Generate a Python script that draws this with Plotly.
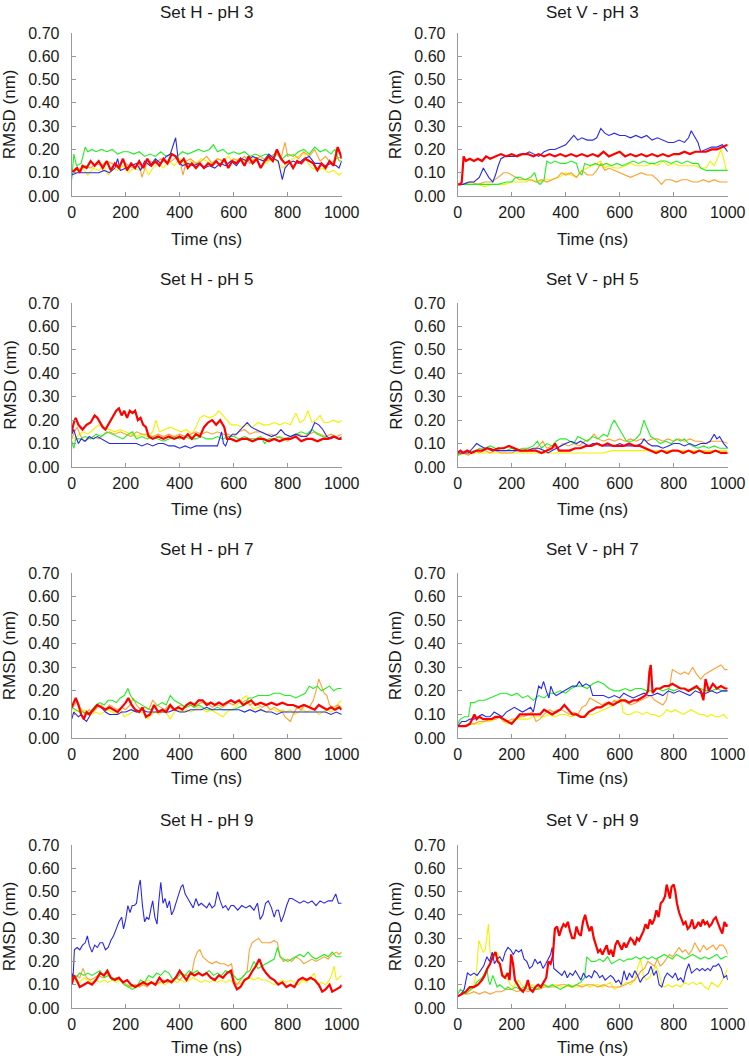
import plotly.graph_objects as go

# ---------------- data: (time ns, RMSD nm) pairs ----------------
PANEL_TITLES = ["Set H - pH 3", "Set V - pH 3", "Set H - pH 5", "Set V - pH 5",
                "Set H - pH 7", "Set V - pH 7", "Set H - pH 9", "Set V - pH 9"]
X_TICKS = [0, 200, 400, 600, 800, 1000]
Y_TICKS = [0.0, 0.1, 0.2, 0.3, 0.4, 0.5, 0.6, 0.7]

H3_GREEN = [(0,0.07),(8,0.18),(18,0.13),(35,0.14),(50,0.21),(60,0.19),(75,0.20),(90,0.19),(110,0.20),(130,0.19),(150,0.20),(170,0.18),(190,0.19),(210,0.19),(230,0.18),(250,0.19),(270,0.17),(290,0.18),(310,0.17),(330,0.19),(350,0.17),(370,0.18),(390,0.17),(410,0.19),(430,0.18),(450,0.19),(470,0.20),(490,0.19),(510,0.20),(525,0.22),(540,0.19),(560,0.20),(580,0.18),(600,0.19),(620,0.18),(640,0.19),(660,0.17),(680,0.18),(700,0.17),(720,0.18),(740,0.17),(760,0.19),(780,0.16),(800,0.18),(820,0.17),(840,0.19),(860,0.20),(880,0.18),(900,0.21),(920,0.19),(940,0.20),(960,0.18),(975,0.20),(990,0.15),(1000,0.15)]
H3_RED = [(0,0.10),(10,0.11),(20,0.12),(30,0.10),(40,0.13),(55,0.12),(70,0.15),(85,0.13),(100,0.15),(115,0.12),(130,0.15),(145,0.11),(160,0.14),(175,0.12),(190,0.16),(205,0.11),(220,0.14),(235,0.12),(250,0.15),(265,0.12),(280,0.16),(295,0.13),(310,0.15),(325,0.13),(340,0.16),(355,0.14),(370,0.18),(385,0.17),(400,0.14),(415,0.16),(430,0.12),(445,0.14),(460,0.12),(475,0.14),(490,0.12),(505,0.14),(520,0.13),(535,0.15),(550,0.13),(565,0.16),(580,0.12),(595,0.15),(610,0.14),(625,0.16),(640,0.13),(655,0.17),(670,0.14),(685,0.16),(700,0.12),(715,0.15),(730,0.17),(745,0.15),(760,0.20),(775,0.16),(790,0.14),(805,0.15),(820,0.12),(835,0.15),(850,0.14),(865,0.16),(880,0.15),(895,0.14),(910,0.11),(925,0.14),(940,0.12),(955,0.15),(970,0.13),(985,0.21),(995,0.18),(1000,0.16)]
H3_BLUE = [(0,0.09),(20,0.10),(40,0.10),(60,0.10),(80,0.10),(100,0.10),(120,0.11),(140,0.10),(160,0.12),(170,0.16),(180,0.11),(200,0.12),(220,0.13),(240,0.14),(255,0.11),(270,0.15),(290,0.13),(310,0.16),(330,0.14),(350,0.17),(365,0.18),(375,0.22),(385,0.25),(395,0.15),(410,0.13),(430,0.14),(450,0.13),(470,0.14),(490,0.12),(510,0.13),(530,0.12),(550,0.14),(570,0.13),(590,0.15),(610,0.13),(630,0.16),(650,0.15),(670,0.17),(690,0.16),(710,0.15),(730,0.18),(750,0.16),(765,0.15),(775,0.10),(780,0.07),(790,0.12),(805,0.14),(820,0.15),(840,0.14),(860,0.16),(880,0.17),(900,0.14),(920,0.14),(940,0.13),(960,0.14),(980,0.13),(990,0.12),(1000,0.15)]
H3_ORANGE = [(0,0.10),(15,0.12),(30,0.11),(50,0.13),(70,0.12),(90,0.14),(110,0.13),(130,0.15),(150,0.14),(170,0.12),(190,0.15),(210,0.13),(230,0.12),(250,0.14),(260,0.08),(275,0.13),(290,0.15),(310,0.14),(330,0.16),(350,0.14),(370,0.15),(390,0.17),(405,0.13),(412,0.09),(425,0.15),(440,0.16),(460,0.14),(480,0.15),(500,0.17),(520,0.14),(540,0.16),(560,0.15),(580,0.14),(600,0.16),(620,0.15),(640,0.17),(660,0.14),(680,0.16),(700,0.17),(720,0.15),(740,0.16),(760,0.18),(775,0.16),(790,0.23),(800,0.17),(820,0.18),(840,0.16),(860,0.19),(880,0.17),(900,0.20),(920,0.15),(940,0.17),(960,0.14),(980,0.16),(1000,0.17)]
H3_YELLOW = [(0,0.10),(20,0.11),(40,0.12),(60,0.09),(80,0.12),(100,0.11),(120,0.13),(135,0.09),(150,0.12),(170,0.11),(190,0.13),(210,0.10),(230,0.12),(250,0.11),(270,0.13),(285,0.09),(300,0.12),(320,0.14),(340,0.12),(360,0.15),(380,0.13),(400,0.16),(420,0.13),(440,0.15),(460,0.14),(480,0.16),(500,0.15),(520,0.14),(540,0.16),(560,0.15),(580,0.17),(600,0.14),(620,0.16),(640,0.15),(660,0.17),(680,0.15),(700,0.16),(720,0.14),(740,0.16),(760,0.15),(780,0.12),(800,0.14),(820,0.16),(840,0.17),(860,0.19),(875,0.14),(890,0.12),(910,0.11),(930,0.12),(950,0.10),(970,0.11),(990,0.09),(1000,0.10)]

V3_RED = [(0,0.05),(10,0.05),(15,0.06),(22,0.17),(30,0.15),(45,0.16),(60,0.15),(75,0.16),(90,0.15),(105,0.17),(120,0.16),(140,0.17),(160,0.18),(180,0.17),(200,0.18),(220,0.17),(240,0.18),(260,0.18),(280,0.17),(300,0.18),(320,0.17),(340,0.18),(360,0.17),(380,0.18),(400,0.17),(420,0.18),(440,0.17),(460,0.18),(480,0.17),(500,0.18),(520,0.17),(540,0.19),(560,0.17),(580,0.18),(600,0.19),(620,0.17),(640,0.18),(660,0.17),(680,0.18),(700,0.17),(720,0.18),(740,0.17),(760,0.18),(780,0.17),(800,0.18),(820,0.18),(840,0.19),(860,0.18),(880,0.19),(900,0.19),(920,0.19),(940,0.20),(960,0.20),(980,0.21),(1000,0.22)]
V3_BLUE = [(0,0.05),(20,0.05),(40,0.06),(60,0.06),(80,0.08),(95,0.12),(105,0.10),(115,0.08),(130,0.06),(140,0.09),(150,0.13),(160,0.16),(175,0.17),(190,0.17),(210,0.17),(230,0.18),(250,0.18),(265,0.19),(280,0.18),(300,0.17),(320,0.19),(340,0.20),(360,0.20),(380,0.21),(400,0.22),(415,0.24),(430,0.26),(445,0.24),(460,0.25),(480,0.24),(500,0.24),(515,0.25),(530,0.29),(545,0.27),(560,0.26),(580,0.27),(600,0.26),(620,0.26),(640,0.25),(660,0.26),(680,0.25),(700,0.26),(720,0.24),(740,0.25),(760,0.24),(780,0.23),(800,0.23),(820,0.24),(840,0.23),(855,0.25),(865,0.28),(875,0.26),(890,0.23),(900,0.19),(920,0.20),(940,0.21),(960,0.21),(980,0.22),(1000,0.19)]
V3_GREEN = [(0,0.05),(30,0.05),(60,0.05),(90,0.05),(120,0.05),(150,0.05),(180,0.06),(200,0.06),(215,0.08),(230,0.08),(250,0.07),(270,0.08),(285,0.10),(295,0.06),(305,0.05),(320,0.07),(330,0.15),(345,0.14),(360,0.15),(380,0.14),(400,0.14),(420,0.15),(440,0.14),(450,0.10),(460,0.09),(470,0.14),(490,0.13),(510,0.14),(530,0.13),(550,0.14),(570,0.13),(590,0.14),(610,0.13),(630,0.14),(650,0.15),(670,0.14),(690,0.15),(710,0.14),(730,0.14),(750,0.15),(770,0.15),(790,0.14),(810,0.15),(830,0.14),(850,0.15),(870,0.14),(890,0.14),(900,0.12),(920,0.11),(940,0.11),(960,0.11),(980,0.11),(1000,0.11)]
V3_ORANGE = [(0,0.05),(25,0.05),(50,0.06),(75,0.05),(100,0.06),(125,0.06),(150,0.08),(170,0.10),(185,0.10),(200,0.09),(215,0.08),(230,0.07),(250,0.07),(270,0.07),(290,0.06),(310,0.07),(330,0.06),(350,0.07),(370,0.08),(385,0.10),(400,0.09),(420,0.10),(440,0.08),(460,0.11),(480,0.09),(500,0.09),(515,0.11),(530,0.14),(545,0.11),(560,0.12),(580,0.11),(600,0.10),(620,0.09),(640,0.08),(660,0.09),(680,0.10),(700,0.09),(720,0.09),(740,0.07),(755,0.05),(770,0.07),(790,0.07),(810,0.06),(830,0.07),(850,0.07),(870,0.06),(890,0.06),(910,0.07),(930,0.06),(950,0.07),(970,0.06),(1000,0.06)]
V3_YELLOW = [(0,0.05),(25,0.05),(50,0.05),(75,0.05),(100,0.04),(125,0.05),(150,0.05),(175,0.05),(200,0.06),(225,0.06),(250,0.06),(275,0.07),(300,0.06),(325,0.07),(350,0.07),(375,0.08),(400,0.10),(420,0.09),(440,0.08),(460,0.11),(480,0.12),(500,0.13),(515,0.14),(530,0.15),(545,0.12),(560,0.13),(580,0.12),(600,0.12),(620,0.13),(640,0.14),(660,0.13),(680,0.13),(700,0.13),(720,0.14),(740,0.13),(760,0.15),(780,0.13),(800,0.14),(820,0.13),(840,0.13),(860,0.13),(880,0.13),(900,0.12),(920,0.12),(935,0.15),(950,0.13),(965,0.17),(975,0.20),(985,0.16),(995,0.11),(1000,0.11)]

H5_RED = [(0,0.15),(8,0.19),(15,0.21),(25,0.18),(40,0.16),(55,0.18),(70,0.19),(85,0.22),(95,0.21),(105,0.19),(115,0.17),(125,0.16),(140,0.19),(155,0.22),(165,0.24),(175,0.25),(185,0.22),(195,0.24),(205,0.21),(215,0.24),(225,0.23),(235,0.24),(245,0.20),(255,0.21),(265,0.18),(275,0.17),(285,0.13),(300,0.12),(320,0.13),(340,0.12),(360,0.13),(380,0.12),(400,0.13),(415,0.12),(430,0.14),(445,0.12),(460,0.14),(475,0.13),(490,0.17),(505,0.19),(520,0.20),(535,0.18),(550,0.20),(565,0.17),(575,0.12),(590,0.12),(610,0.11),(630,0.12),(650,0.12),(670,0.11),(690,0.12),(710,0.12),(730,0.11),(750,0.12),(770,0.11),(790,0.12),(810,0.12),(830,0.13),(850,0.11),(870,0.12),(890,0.12),(910,0.11),(930,0.12),(950,0.12),(970,0.13),(990,0.12),(1000,0.12)]
H5_YELLOW = [(0,0.12),(20,0.13),(40,0.15),(60,0.14),(80,0.16),(100,0.18),(120,0.17),(140,0.16),(160,0.15),(180,0.16),(200,0.15),(220,0.14),(240,0.13),(260,0.14),(280,0.13),(300,0.15),(312,0.20),(325,0.15),(345,0.16),(365,0.17),(385,0.16),(405,0.15),(425,0.16),(445,0.14),(460,0.17),(475,0.21),(490,0.22),(510,0.21),(530,0.22),(545,0.24),(560,0.22),(575,0.20),(590,0.18),(610,0.18),(630,0.17),(650,0.18),(670,0.17),(690,0.19),(710,0.18),(730,0.18),(750,0.19),(770,0.18),(790,0.19),(810,0.18),(830,0.23),(845,0.19),(860,0.20),(875,0.24),(890,0.19),(905,0.20),(920,0.22),(935,0.19),(950,0.19),(970,0.20),(990,0.19),(1000,0.20)]
H5_GREEN = [(0,0.11),(8,0.08),(15,0.12),(30,0.12),(50,0.13),(70,0.12),(90,0.14),(110,0.13),(130,0.15),(150,0.14),(170,0.13),(190,0.12),(210,0.14),(225,0.15),(240,0.12),(260,0.13),(280,0.12),(300,0.13),(320,0.12),(340,0.11),(360,0.12),(380,0.13),(400,0.12),(420,0.13),(440,0.12),(460,0.12),(480,0.13),(500,0.12),(520,0.12),(540,0.13),(560,0.12),(580,0.13),(600,0.13),(620,0.12),(640,0.13),(660,0.12),(680,0.12),(700,0.13),(715,0.10),(730,0.12),(750,0.12),(770,0.13),(790,0.12),(810,0.13),(830,0.14),(850,0.15),(870,0.14),(890,0.16),(910,0.14),(930,0.13),(950,0.12),(970,0.13),(990,0.12),(1000,0.12)]
H5_ORANGE = [(0,0.12),(10,0.15),(20,0.17),(30,0.14),(45,0.11),(60,0.12),(80,0.13),(100,0.12),(120,0.14),(140,0.15),(160,0.14),(180,0.15),(200,0.14),(220,0.13),(240,0.15),(260,0.14),(280,0.14),(300,0.13),(320,0.14),(340,0.13),(360,0.14),(380,0.13),(400,0.14),(420,0.13),(440,0.14),(460,0.15),(480,0.14),(500,0.15),(520,0.14),(540,0.15),(560,0.14),(580,0.14),(600,0.13),(620,0.15),(640,0.16),(660,0.14),(680,0.15),(700,0.15),(720,0.14),(740,0.14),(760,0.13),(780,0.12),(800,0.11),(820,0.13),(840,0.14),(860,0.13),(880,0.14),(900,0.15),(920,0.14),(940,0.13),(960,0.14),(980,0.13),(1000,0.14)]
H5_BLUE = [(0,0.14),(8,0.16),(15,0.13),(25,0.10),(35,0.12),(50,0.11),(65,0.13),(80,0.12),(95,0.13),(110,0.12),(125,0.11),(140,0.10),(160,0.10),(180,0.10),(200,0.10),(220,0.10),(240,0.10),(260,0.09),(280,0.10),(300,0.09),(320,0.10),(340,0.10),(360,0.09),(380,0.09),(400,0.08),(420,0.09),(440,0.08),(460,0.09),(480,0.09),(500,0.09),(520,0.09),(540,0.09),(550,0.13),(555,0.15),(562,0.10),(570,0.09),(580,0.12),(595,0.14),(610,0.14),(625,0.16),(640,0.18),(650,0.19),(665,0.17),(680,0.16),(700,0.15),(720,0.14),(740,0.13),(760,0.14),(775,0.16),(790,0.14),(810,0.13),(830,0.14),(850,0.13),(870,0.13),(885,0.15),(900,0.19),(915,0.18),(930,0.16),(945,0.13),(960,0.12),(975,0.13),(990,0.12),(1000,0.13)]

V5_GREEN = [(0,0.05),(20,0.06),(40,0.07),(60,0.06),(80,0.08),(100,0.08),(120,0.09),(140,0.08),(160,0.07),(180,0.07),(200,0.08),(220,0.07),(240,0.08),(260,0.08),(280,0.09),(295,0.11),(310,0.08),(330,0.10),(350,0.09),(365,0.11),(380,0.12),(400,0.12),(415,0.11),(430,0.10),(445,0.13),(460,0.12),(480,0.11),(500,0.13),(520,0.12),(540,0.14),(555,0.13),(570,0.18),(580,0.20),(595,0.17),(610,0.14),(625,0.11),(645,0.11),(660,0.12),(675,0.14),(690,0.20),(700,0.17),(715,0.13),(730,0.12),(750,0.10),(770,0.11),(790,0.10),(810,0.12),(825,0.11),(840,0.12),(855,0.10),(870,0.09),(890,0.08),(910,0.09),(930,0.08),(950,0.09),(970,0.08),(990,0.08),(1000,0.08)]
V5_ORANGE = [(0,0.05),(20,0.06),(40,0.05),(60,0.07),(80,0.06),(100,0.07),(120,0.06),(140,0.07),(160,0.06),(180,0.06),(200,0.06),(220,0.07),(240,0.07),(260,0.08),(280,0.07),(300,0.09),(315,0.11),(330,0.08),(350,0.09),(370,0.08),(390,0.10),(410,0.09),(430,0.10),(450,0.09),(470,0.11),(490,0.12),(505,0.14),(520,0.12),(540,0.11),(560,0.12),(580,0.11),(600,0.12),(620,0.11),(640,0.12),(660,0.11),(680,0.12),(700,0.11),(720,0.12),(740,0.12),(760,0.11),(780,0.12),(800,0.11),(820,0.12),(840,0.11),(860,0.12),(880,0.11),(900,0.11),(920,0.10),(940,0.11),(960,0.11),(980,0.11),(1000,0.10)]
V5_RED = [(0,0.06),(10,0.07),(20,0.06),(35,0.07),(50,0.06),(70,0.07),(90,0.07),(110,0.08),(130,0.07),(150,0.08),(170,0.08),(190,0.09),(210,0.08),(230,0.07),(250,0.07),(270,0.07),(290,0.07),(310,0.06),(330,0.07),(350,0.08),(360,0.10),(375,0.07),(395,0.07),(415,0.07),(435,0.08),(455,0.08),(475,0.09),(495,0.09),(515,0.10),(535,0.09),(555,0.10),(575,0.09),(595,0.09),(615,0.09),(635,0.10),(655,0.09),(675,0.09),(695,0.08),(715,0.07),(735,0.06),(755,0.07),(775,0.06),(795,0.07),(815,0.07),(835,0.06),(855,0.07),(875,0.06),(895,0.07),(915,0.06),(935,0.06),(955,0.07),(975,0.06),(1000,0.06)]
V5_BLUE = [(0,0.06),(20,0.06),(40,0.06),(55,0.08),(70,0.10),(85,0.09),(100,0.08),(120,0.08),(140,0.07),(160,0.07),(180,0.07),(200,0.07),(220,0.07),(240,0.07),(260,0.07),(280,0.08),(300,0.08),(320,0.07),(335,0.06),(350,0.07),(365,0.08),(380,0.09),(400,0.10),(420,0.11),(440,0.10),(455,0.11),(470,0.10),(485,0.09),(500,0.10),(520,0.10),(540,0.09),(560,0.09),(580,0.09),(600,0.10),(620,0.09),(640,0.09),(660,0.09),(680,0.10),(690,0.12),(705,0.10),(720,0.09),(740,0.09),(760,0.08),(780,0.09),(800,0.10),(820,0.10),(840,0.09),(860,0.10),(880,0.09),(900,0.10),(920,0.10),(935,0.11),(950,0.14),(960,0.12),(970,0.13),(985,0.10),(1000,0.08)]
V5_YELLOW = [(0,0.05),(30,0.06),(60,0.06),(90,0.06),(120,0.06),(150,0.06),(180,0.06),(210,0.06),(240,0.06),(270,0.06),(300,0.06),(330,0.06),(360,0.06),(390,0.06),(420,0.06),(450,0.06),(480,0.06),(510,0.06),(540,0.06),(570,0.07),(600,0.07),(630,0.07),(660,0.07),(690,0.07),(720,0.07),(750,0.07),(780,0.07),(810,0.07),(840,0.07),(870,0.07),(900,0.07),(930,0.07),(960,0.07),(1000,0.07)]

H7_GREEN = [(0,0.13),(15,0.12),(30,0.11),(45,0.11),(60,0.10),(75,0.12),(90,0.14),(105,0.15),(120,0.14),(135,0.16),(150,0.16),(165,0.15),(180,0.17),(195,0.18),(208,0.21),(218,0.18),(230,0.16),(245,0.15),(260,0.14),(275,0.13),(290,0.12),(305,0.13),(320,0.14),(335,0.15),(350,0.14),(365,0.18),(380,0.16),(395,0.15),(410,0.14),(425,0.13),(440,0.14),(455,0.13),(470,0.14),(485,0.13),(500,0.12),(520,0.12),(540,0.13),(560,0.12),(580,0.12),(600,0.12),(620,0.13),(640,0.14),(655,0.17),(670,0.17),(690,0.18),(710,0.18),(730,0.18),(750,0.19),(770,0.19),(790,0.18),(810,0.18),(830,0.17),(850,0.18),(865,0.19),(880,0.22),(895,0.21),(910,0.22),(925,0.20),(940,0.21),(955,0.22),(970,0.20),(985,0.21),(1000,0.21)]
H7_RED = [(0,0.13),(8,0.15),(15,0.17),(25,0.14),(35,0.10),(45,0.08),(55,0.11),(65,0.10),(80,0.12),(95,0.14),(110,0.13),(125,0.12),(140,0.13),(155,0.12),(170,0.11),(185,0.13),(200,0.15),(210,0.17),(222,0.14),(235,0.12),(250,0.11),(262,0.13),(275,0.09),(290,0.10),(305,0.14),(320,0.11),(335,0.12),(350,0.11),(365,0.14),(380,0.12),(395,0.13),(410,0.12),(425,0.14),(440,0.15),(455,0.14),(470,0.16),(485,0.16),(500,0.14),(515,0.15),(530,0.14),(545,0.15),(560,0.14),(575,0.15),(590,0.16),(605,0.15),(620,0.16),(635,0.14),(650,0.15),(665,0.16),(680,0.14),(700,0.15),(720,0.14),(740,0.15),(760,0.14),(780,0.15),(800,0.14),(820,0.14),(840,0.13),(860,0.14),(880,0.13),(900,0.12),(915,0.14),(930,0.13),(945,0.12),(960,0.13),(975,0.12),(990,0.13),(1000,0.12)]
H7_ORANGE = [(0,0.12),(10,0.14),(20,0.16),(35,0.12),(50,0.10),(65,0.12),(80,0.11),(95,0.13),(110,0.14),(125,0.12),(140,0.14),(155,0.13),(170,0.12),(185,0.13),(200,0.12),(215,0.14),(228,0.17),(240,0.14),(255,0.12),(270,0.13),(285,0.12),(300,0.16),(315,0.14),(330,0.13),(345,0.12),(360,0.14),(375,0.12),(390,0.13),(405,0.14),(420,0.13),(435,0.15),(450,0.13),(465,0.14),(480,0.15),(500,0.15),(520,0.13),(540,0.14),(560,0.13),(580,0.15),(600,0.14),(615,0.16),(630,0.15),(645,0.16),(660,0.14),(675,0.15),(690,0.14),(705,0.13),(720,0.14),(735,0.12),(750,0.13),(765,0.12),(780,0.11),(790,0.09),(800,0.08),(810,0.07),(820,0.10),(835,0.13),(850,0.12),(865,0.14),(880,0.13),(895,0.16),(905,0.20),(915,0.25),(925,0.22),(935,0.19),(945,0.18),(955,0.14),(970,0.13),(985,0.14),(1000,0.13)]
H7_YELLOW = [(0,0.10),(15,0.12),(30,0.11),(45,0.12),(60,0.11),(75,0.10),(90,0.11),(105,0.10),(120,0.11),(135,0.12),(150,0.11),(165,0.10),(180,0.12),(195,0.09),(210,0.10),(225,0.11),(240,0.12),(255,0.11),(270,0.10),(282,0.08),(295,0.10),(310,0.11),(325,0.10),(340,0.12),(355,0.10),(365,0.08),(380,0.11),(395,0.12),(410,0.11),(425,0.12),(440,0.11),(455,0.12),(470,0.13),(485,0.12),(500,0.11),(515,0.12),(530,0.11),(545,0.10),(560,0.09),(575,0.11),(590,0.12),(605,0.13),(620,0.15),(635,0.17),(648,0.18),(660,0.14),(675,0.12),(690,0.13),(705,0.12),(720,0.11),(735,0.12),(750,0.12),(765,0.11),(780,0.12),(795,0.11),(810,0.12),(825,0.10),(840,0.11),(855,0.12),(870,0.11),(885,0.12),(900,0.12),(915,0.10),(930,0.11),(945,0.12),(960,0.11),(975,0.12),(990,0.15),(1000,0.16)]
H7_BLUE = [(0,0.08),(8,0.11),(16,0.10),(25,0.09),(35,0.10),(45,0.08),(55,0.07),(65,0.09),(80,0.12),(95,0.14),(110,0.13),(125,0.11),(140,0.10),(155,0.10),(170,0.10),(185,0.11),(200,0.11),(220,0.12),(240,0.11),(260,0.12),(280,0.11),(300,0.11),(320,0.11),(340,0.11),(360,0.11),(380,0.12),(400,0.11),(420,0.11),(440,0.12),(460,0.12),(480,0.12),(500,0.13),(520,0.12),(540,0.12),(560,0.12),(580,0.12),(600,0.12),(620,0.12),(640,0.11),(660,0.12),(680,0.11),(700,0.12),(720,0.11),(740,0.11),(760,0.10),(780,0.11),(800,0.11),(820,0.11),(840,0.11),(860,0.11),(880,0.11),(900,0.11),(920,0.11),(940,0.11),(960,0.10),(980,0.11),(1000,0.10)]

V7_GREEN = [(0,0.06),(10,0.08),(25,0.09),(40,0.09),(48,0.15),(60,0.15),(80,0.16),(100,0.16),(120,0.17),(140,0.18),(160,0.19),(180,0.19),(200,0.18),(220,0.19),(240,0.17),(260,0.18),(280,0.16),(300,0.18),(320,0.17),(340,0.19),(360,0.19),(380,0.20),(400,0.19),(420,0.21),(440,0.22),(460,0.22),(480,0.21),(500,0.23),(520,0.24),(540,0.23),(560,0.21),(580,0.20),(600,0.20),(620,0.21),(640,0.20),(660,0.21),(680,0.21),(700,0.20),(720,0.20),(740,0.21),(760,0.20),(780,0.21),(800,0.20),(820,0.21),(840,0.21),(860,0.20),(880,0.21),(900,0.21),(920,0.20),(940,0.20),(960,0.21),(980,0.20),(1000,0.20)]
V7_BLUE = [(0,0.05),(15,0.07),(30,0.07),(45,0.08),(60,0.08),(75,0.09),(90,0.10),(105,0.09),(120,0.09),(135,0.11),(150,0.10),(165,0.09),(180,0.11),(195,0.12),(210,0.13),(225,0.12),(240,0.11),(255,0.12),(270,0.13),(280,0.11),(290,0.17),(300,0.22),(310,0.21),(318,0.24),(328,0.20),(338,0.17),(345,0.22),(355,0.19),(365,0.18),(380,0.19),(395,0.20),(410,0.21),(425,0.22),(440,0.22),(450,0.24),(462,0.22),(475,0.23),(490,0.22),(500,0.18),(520,0.18),(540,0.18),(560,0.17),(580,0.18),(600,0.17),(615,0.19),(630,0.18),(650,0.17),(670,0.18),(690,0.19),(705,0.18),(720,0.18),(740,0.19),(760,0.18),(780,0.20),(800,0.19),(820,0.20),(840,0.19),(860,0.18),(880,0.20),(900,0.19),(920,0.19),(940,0.20),(960,0.19),(980,0.20),(1000,0.20)]
V7_RED = [(0,0.05),(15,0.05),(30,0.05),(45,0.06),(55,0.08),(62,0.10),(70,0.08),(80,0.09),(95,0.08),(110,0.08),(125,0.08),(140,0.09),(155,0.09),(170,0.08),(185,0.07),(200,0.06),(215,0.08),(230,0.10),(245,0.10),(260,0.10),(275,0.10),(290,0.10),(305,0.10),(320,0.12),(335,0.11),(350,0.10),(365,0.11),(380,0.12),(395,0.14),(410,0.12),(425,0.10),(440,0.10),(455,0.09),(470,0.09),(485,0.11),(500,0.12),(515,0.13),(530,0.13),(545,0.14),(560,0.15),(575,0.14),(590,0.15),(605,0.16),(620,0.16),(635,0.15),(650,0.16),(665,0.16),(680,0.17),(695,0.18),(705,0.20),(710,0.28),(715,0.31),(722,0.19),(735,0.21),(750,0.21),(765,0.22),(780,0.22),(795,0.23),(810,0.22),(825,0.21),(840,0.21),(855,0.20),(870,0.21),(885,0.22),(900,0.20),(910,0.16),(918,0.25),(930,0.20),(945,0.23),(960,0.21),(975,0.22),(990,0.21),(1000,0.21)]
V7_ORANGE = [(0,0.05),(20,0.05),(40,0.06),(60,0.06),(80,0.07),(100,0.07),(120,0.08),(140,0.08),(155,0.09),(170,0.07),(185,0.07),(200,0.08),(215,0.08),(230,0.09),(245,0.09),(260,0.10),(275,0.11),(290,0.07),(305,0.08),(320,0.10),(340,0.12),(355,0.11),(370,0.12),(385,0.12),(400,0.11),(415,0.10),(430,0.11),(445,0.10),(460,0.13),(475,0.14),(490,0.17),(505,0.16),(520,0.15),(535,0.14),(550,0.15),(565,0.14),(580,0.16),(595,0.15),(610,0.16),(625,0.15),(640,0.14),(660,0.15),(680,0.16),(700,0.17),(715,0.18),(730,0.16),(745,0.15),(760,0.14),(772,0.16),(785,0.22),(795,0.29),(810,0.28),(825,0.27),(840,0.28),(855,0.27),(870,0.30),(885,0.27),(900,0.25),(915,0.27),(930,0.28),(945,0.29),(960,0.30),(975,0.31),(990,0.29),(1000,0.29)]
V7_YELLOW = [(0,0.05),(20,0.05),(40,0.06),(60,0.06),(80,0.06),(100,0.07),(120,0.07),(140,0.08),(155,0.09),(170,0.07),(185,0.06),(200,0.07),(220,0.08),(240,0.08),(260,0.08),(280,0.09),(300,0.09),(320,0.09),(340,0.10),(360,0.09),(380,0.10),(400,0.10),(420,0.09),(440,0.10),(460,0.09),(480,0.10),(500,0.10),(520,0.11),(540,0.12),(560,0.13),(580,0.14),(595,0.16),(605,0.17),(612,0.11),(625,0.10),(640,0.10),(655,0.11),(670,0.11),(685,0.10),(700,0.11),(715,0.10),(730,0.10),(745,0.09),(760,0.10),(775,0.12),(790,0.11),(805,0.12),(820,0.11),(835,0.10),(850,0.11),(865,0.12),(880,0.11),(895,0.10),(910,0.10),(925,0.09),(940,0.10),(955,0.09),(970,0.09),(985,0.10),(1000,0.08)]

H9_BLUE = [(0,0.15),(5,0.13),(10,0.25),(20,0.26),(30,0.25),(40,0.27),(50,0.28),(58,0.31),(65,0.27),(75,0.24),(85,0.27),(95,0.26),(105,0.28),(115,0.28),(125,0.25),(135,0.26),(145,0.29),(155,0.31),(165,0.34),(175,0.37),(185,0.39),(192,0.34),(200,0.38),(208,0.44),(216,0.41),(224,0.44),(232,0.44),(240,0.45),(248,0.52),(254,0.55),(262,0.44),(270,0.37),(278,0.39),(286,0.38),(294,0.43),(300,0.46),(308,0.39),(316,0.36),(322,0.45),(330,0.54),(338,0.45),(346,0.47),(354,0.43),(362,0.46),(370,0.40),(378,0.42),(386,0.45),(395,0.48),(405,0.52),(412,0.53),(420,0.49),(430,0.47),(440,0.45),(450,0.43),(460,0.47),(470,0.44),(480,0.45),(490,0.44),(500,0.43),(510,0.45),(520,0.43),(530,0.44),(540,0.50),(550,0.46),(560,0.43),(570,0.44),(580,0.42),(590,0.44),(600,0.44),(615,0.42),(630,0.44),(645,0.43),(660,0.44),(675,0.42),(688,0.45),(698,0.38),(708,0.40),(718,0.45),(728,0.46),(740,0.43),(750,0.39),(758,0.42),(766,0.42),(776,0.37),(786,0.40),(796,0.44),(806,0.47),(816,0.47),(830,0.46),(845,0.45),(860,0.46),(875,0.45),(890,0.46),(905,0.44),(920,0.46),(935,0.45),(950,0.46),(965,0.46),(978,0.49),(988,0.45),(1000,0.45)]
H9_ORANGE = [(0,0.12),(15,0.14),(30,0.13),(42,0.17),(55,0.13),(70,0.12),(85,0.13),(100,0.14),(115,0.13),(130,0.15),(145,0.13),(160,0.12),(175,0.13),(190,0.11),(205,0.10),(220,0.09),(235,0.10),(250,0.09),(265,0.10),(280,0.09),(295,0.11),(310,0.10),(325,0.11),(340,0.12),(355,0.11),(370,0.12),(385,0.13),(400,0.12),(415,0.14),(430,0.14),(445,0.15),(455,0.21),(465,0.24),(475,0.25),(485,0.22),(495,0.21),(505,0.20),(520,0.19),(535,0.20),(550,0.19),(565,0.19),(580,0.18),(592,0.19),(602,0.12),(612,0.10),(625,0.12),(640,0.14),(650,0.16),(658,0.25),(668,0.28),(680,0.29),(692,0.30),(705,0.28),(720,0.28),(735,0.28),(750,0.29),(762,0.28),(772,0.22),(785,0.20),(800,0.21),(815,0.20),(830,0.22),(845,0.21),(860,0.19),(875,0.20),(890,0.21),(905,0.20),(920,0.21),(935,0.22),(950,0.21),(965,0.23),(980,0.24),(990,0.23),(1000,0.24)]
H9_GREEN = [(0,0.14),(15,0.13),(30,0.15),(45,0.14),(60,0.15),(75,0.14),(90,0.15),(105,0.16),(120,0.13),(135,0.14),(150,0.12),(165,0.13),(180,0.12),(195,0.10),(210,0.09),(225,0.08),(240,0.09),(255,0.12),(270,0.11),(285,0.14),(300,0.13),(315,0.15),(330,0.14),(345,0.16),(360,0.15),(375,0.12),(390,0.13),(405,0.15),(420,0.14),(435,0.16),(450,0.15),(465,0.16),(480,0.14),(495,0.15),(510,0.16),(525,0.14),(540,0.15),(555,0.14),(570,0.16),(585,0.15),(600,0.14),(615,0.12),(630,0.13),(645,0.15),(660,0.16),(675,0.20),(690,0.17),(705,0.18),(720,0.19),(735,0.20),(750,0.21),(762,0.26),(772,0.22),(785,0.21),(800,0.20),(815,0.21),(830,0.22),(845,0.23),(860,0.22),(875,0.24),(890,0.22),(905,0.21),(920,0.22),(935,0.23),(950,0.22),(965,0.24),(980,0.22),(1000,0.22)]
H9_RED = [(0,0.10),(8,0.14),(18,0.12),(30,0.09),(45,0.10),(60,0.11),(75,0.10),(90,0.12),(105,0.15),(120,0.14),(132,0.16),(145,0.13),(160,0.12),(175,0.13),(190,0.11),(205,0.12),(220,0.10),(235,0.09),(250,0.10),(265,0.11),(280,0.10),(295,0.11),(310,0.10),(325,0.13),(340,0.11),(355,0.12),(370,0.11),(385,0.13),(400,0.16),(412,0.14),(425,0.12),(440,0.15),(455,0.14),(470,0.15),(485,0.14),(500,0.15),(515,0.13),(530,0.12),(545,0.14),(560,0.13),(575,0.15),(590,0.16),(600,0.11),(612,0.08),(625,0.09),(640,0.12),(655,0.13),(670,0.16),(682,0.18),(695,0.21),(708,0.17),(720,0.15),(735,0.13),(750,0.12),(765,0.10),(780,0.11),(795,0.09),(810,0.10),(825,0.09),(840,0.12),(855,0.13),(870,0.12),(885,0.13),(900,0.12),(915,0.10),(928,0.07),(940,0.08),(955,0.10),(965,0.07),(980,0.08),(995,0.09),(1000,0.10)]
H9_YELLOW = [(0,0.11),(15,0.12),(30,0.11),(45,0.13),(60,0.12),(75,0.11),(90,0.12),(105,0.11),(120,0.12),(135,0.11),(150,0.12),(165,0.11),(180,0.12),(195,0.10),(210,0.09),(225,0.10),(240,0.09),(255,0.10),(270,0.11),(285,0.12),(300,0.11),(315,0.10),(330,0.11),(345,0.10),(360,0.11),(375,0.12),(390,0.11),(405,0.12),(420,0.11),(435,0.12),(450,0.13),(465,0.12),(480,0.11),(495,0.12),(510,0.11),(525,0.12),(540,0.11),(555,0.12),(570,0.11),(585,0.12),(600,0.11),(615,0.10),(630,0.11),(645,0.12),(660,0.13),(675,0.12),(690,0.13),(705,0.12),(720,0.12),(735,0.11),(750,0.10),(765,0.11),(780,0.12),(795,0.11),(810,0.12),(825,0.11),(840,0.10),(855,0.12),(870,0.11),(885,0.13),(898,0.15),(910,0.10),(925,0.11),(940,0.10),(955,0.12),(965,0.15),(972,0.18),(980,0.12),(990,0.13),(1000,0.14)]

V9_RED = [(0,0.05),(15,0.06),(30,0.07),(45,0.09),(60,0.09),(75,0.10),(90,0.12),(100,0.14),(110,0.17),(120,0.19),(130,0.22),(140,0.24),(148,0.20),(156,0.19),(165,0.14),(175,0.13),(185,0.15),(192,0.12),(198,0.23),(205,0.19),(212,0.12),(222,0.10),(232,0.08),(242,0.07),(252,0.09),(260,0.12),(268,0.08),(278,0.07),(288,0.09),(298,0.10),(308,0.09),(318,0.11),(328,0.13),(336,0.20),(344,0.19),(352,0.22),(360,0.34),(368,0.35),(376,0.31),(384,0.34),(392,0.36),(400,0.35),(408,0.37),(416,0.33),(424,0.30),(432,0.30),(440,0.35),(448,0.32),(456,0.31),(464,0.37),(472,0.40),(480,0.36),(488,0.33),(496,0.35),(504,0.30),(512,0.27),(520,0.24),(528,0.25),(536,0.23),(544,0.25),(552,0.27),(560,0.23),(568,0.25),(576,0.22),(584,0.27),(592,0.29),(600,0.27),(608,0.25),(616,0.28),(624,0.26),(632,0.28),(640,0.30),(648,0.29),(656,0.27),(664,0.30),(672,0.29),(680,0.31),(688,0.33),(696,0.36),(704,0.34),(712,0.38),(720,0.36),(728,0.38),(736,0.42),(744,0.39),(752,0.45),(760,0.46),(768,0.48),(774,0.53),(780,0.50),(786,0.47),(792,0.52),(800,0.53),(806,0.50),(812,0.45),(820,0.41),(828,0.38),(836,0.36),(844,0.37),(852,0.34),(860,0.35),(868,0.38),(876,0.34),(884,0.35),(892,0.37),(900,0.35),(908,0.38),(916,0.36),(924,0.37),(932,0.35),(940,0.36),(948,0.38),(956,0.39),(964,0.36),(972,0.34),(980,0.32),(988,0.37),(996,0.35),(1000,0.36)]
V9_BLUE = [(0,0.05),(12,0.06),(24,0.08),(36,0.15),(48,0.14),(60,0.15),(72,0.14),(84,0.16),(96,0.18),(108,0.22),(118,0.20),(128,0.24),(136,0.19),(146,0.21),(156,0.22),(166,0.20),(176,0.24),(186,0.26),(196,0.25),(206,0.23),(216,0.25),(226,0.24),(236,0.25),(246,0.21),(256,0.20),(266,0.17),(276,0.18),(286,0.21),(296,0.19),(306,0.20),(316,0.17),(326,0.19),(336,0.21),(344,0.23),(350,0.26),(356,0.17),(366,0.16),(376,0.15),(386,0.14),(396,0.16),(406,0.13),(416,0.15),(426,0.14),(436,0.16),(446,0.14),(456,0.12),(466,0.15),(476,0.13),(486,0.14),(496,0.13),(506,0.16),(516,0.15),(526,0.13),(536,0.14),(546,0.12),(556,0.13),(566,0.14),(576,0.13),(586,0.11),(596,0.12),(606,0.10),(616,0.16),(626,0.12),(636,0.15),(646,0.13),(656,0.16),(666,0.14),(676,0.11),(686,0.13),(696,0.14),(706,0.15),(716,0.18),(726,0.14),(736,0.16),(746,0.10),(756,0.09),(766,0.13),(776,0.15),(786,0.14),(796,0.13),(806,0.15),(816,0.12),(826,0.13),(836,0.11),(846,0.16),(856,0.19),(866,0.15),(876,0.16),(886,0.17),(896,0.16),(906,0.17),(916,0.16),(926,0.17),(936,0.16),(946,0.18),(956,0.18),(966,0.19),(976,0.17),(986,0.13),(996,0.14),(1000,0.12)]
V9_GREEN = [(0,0.06),(10,0.08),(20,0.07),(30,0.06),(40,0.07),(50,0.08),(60,0.09),(70,0.11),(80,0.12),(90,0.13),(100,0.15),(108,0.17),(114,0.12),(120,0.10),(130,0.14),(138,0.11),(146,0.09),(156,0.10),(166,0.09),(176,0.08),(186,0.09),(200,0.08),(215,0.09),(230,0.08),(245,0.09),(260,0.08),(275,0.09),(290,0.08),(305,0.09),(320,0.10),(335,0.09),(350,0.10),(365,0.09),(380,0.08),(395,0.09),(410,0.10),(425,0.09),(440,0.10),(455,0.11),(470,0.13),(478,0.22),(486,0.21),(496,0.20),(510,0.20),(525,0.21),(540,0.20),(555,0.22),(570,0.19),(585,0.20),(600,0.21),(615,0.20),(630,0.21),(645,0.21),(660,0.22),(675,0.21),(690,0.22),(705,0.21),(720,0.22),(735,0.21),(750,0.22),(765,0.23),(780,0.22),(795,0.21),(810,0.23),(825,0.22),(840,0.21),(855,0.22),(870,0.23),(885,0.22),(900,0.21),(915,0.22),(930,0.21),(945,0.22),(960,0.23),(975,0.21),(990,0.22),(1000,0.22)]
V9_YELLOW = [(0,0.05),(15,0.06),(30,0.07),(45,0.08),(60,0.10),(70,0.16),(78,0.29),(86,0.26),(94,0.24),(102,0.25),(108,0.30),(114,0.36),(120,0.24),(128,0.21),(136,0.22),(144,0.24),(150,0.23),(158,0.18),(166,0.15),(176,0.13),(186,0.12),(196,0.10),(206,0.09),(216,0.11),(226,0.12),(236,0.10),(246,0.09),(256,0.10),(266,0.09),(276,0.10),(286,0.09),(296,0.08),(310,0.09),(325,0.10),(340,0.09),(355,0.10),(370,0.10),(385,0.09),(400,0.09),(415,0.10),(430,0.09),(445,0.09),(460,0.10),(475,0.10),(490,0.09),(505,0.10),(520,0.10),(535,0.09),(550,0.10),(565,0.11),(580,0.08),(595,0.09),(610,0.10),(625,0.11),(640,0.10),(655,0.12),(668,0.18),(678,0.21),(688,0.14),(698,0.12),(710,0.13),(722,0.16),(734,0.18),(746,0.15),(756,0.10),(766,0.09),(780,0.10),(795,0.09),(810,0.10),(825,0.09),(840,0.11),(855,0.10),(870,0.11),(885,0.10),(900,0.11),(915,0.09),(928,0.08),(940,0.11),(952,0.10),(964,0.09),(976,0.11),(988,0.14),(1000,0.17)]
V9_ORANGE = [(0,0.05),(20,0.06),(40,0.06),(60,0.07),(80,0.06),(100,0.07),(120,0.06),(140,0.07),(160,0.07),(180,0.08),(200,0.08),(220,0.07),(240,0.08),(260,0.07),(280,0.08),(300,0.08),(320,0.09),(340,0.09),(360,0.09),(380,0.10),(400,0.10),(420,0.09),(440,0.10),(460,0.09),(480,0.10),(500,0.10),(520,0.09),(540,0.10),(560,0.09),(580,0.09),(600,0.09),(620,0.10),(640,0.11),(655,0.12),(668,0.14),(680,0.16),(692,0.17),(704,0.20),(716,0.19),(728,0.18),(740,0.21),(750,0.18),(760,0.19),(772,0.21),(784,0.23),(796,0.22),(808,0.24),(820,0.26),(832,0.24),(844,0.25),(856,0.23),(868,0.25),(878,0.28),(888,0.26),(898,0.24),(910,0.27),(922,0.25),(934,0.26),(946,0.27),(958,0.25),(970,0.27),(982,0.27),(994,0.25),(1000,0.23)]

PANEL_SERIES = [
    [H3_YELLOW, H3_ORANGE, H3_GREEN, H3_BLUE, H3_RED],
    [V3_YELLOW, V3_ORANGE, V3_GREEN, V3_BLUE, V3_RED],
    [H5_YELLOW, H5_ORANGE, H5_GREEN, H5_BLUE, H5_RED],
    [V5_YELLOW, V5_ORANGE, V5_GREEN, V5_BLUE, V5_RED],
    [H7_YELLOW, H7_ORANGE, H7_GREEN, H7_BLUE, H7_RED],
    [V7_YELLOW, V7_ORANGE, V7_GREEN, V7_BLUE, V7_RED],
    [H9_YELLOW, H9_ORANGE, H9_GREEN, H9_BLUE, H9_RED],
    [V9_YELLOW, V9_ORANGE, V9_GREEN, V9_BLUE, V9_RED],
]

# ---------------- styles / layout ----------------
SERIES_COLORS = ["#f2f200", "#ffa030", "#22ee22", "#2828ee", "#ff0000"]
SERIES_WIDTHS = [1.1, 1.1, 1.1, 1.1, 2.2]

W, H = 749, 1061
COL_PX = [(71.7, 341.7), (457.7, 727.7)]
ROW_PX = [(33, 196), (303, 467), (573, 738), (845, 1008)]
TITLE_Y = [12, 279, 549, 820]
XLABEL_Y = [239, 509, 778, 1047]
FONT = "Liberation Sans, Arial, Helvetica, sans-serif"
AX_GRAY = "#999999"
TXT = "#1a1a1a"

fig = go.Figure()
annotations = []

for i in range(8):
    r, c = divmod(i, 2)
    x0, x1 = COL_PX[c]
    top, bot = ROW_PX[r]
    xa = "x" if i == 0 else f"x{i+1}"
    ya = "y" if i == 0 else f"y{i+1}"
    for s, series in enumerate(PANEL_SERIES[i]):
        fig.add_trace(go.Scatter(
            x=[p[0] for p in series], y=[p[1] for p in series],
            mode="lines", xaxis=xa, yaxis=ya, showlegend=False,
            line=dict(color=SERIES_COLORS[s], width=SERIES_WIDTHS[s]),
            hoverinfo="skip"))
    xkey = "xaxis" if i == 0 else f"xaxis{i+1}"
    ykey = "yaxis" if i == 0 else f"yaxis{i+1}"
    fig.update_layout(**{
        xkey: dict(domain=[x0 / W, x1 / W], anchor=ya, range=[0, 1000], automargin=False,
                   tickvals=X_TICKS, ticktext=[str(v) for v in X_TICKS],
                   ticks="inside", ticklen=4, tickcolor=AX_GRAY, tickwidth=1,
                   showline=True, linecolor=AX_GRAY, linewidth=1,
                   showgrid=False, zeroline=False,
                   tickfont=dict(family=FONT, size=16, color=TXT),
                   ticklabelstandoff=2),
        ykey: dict(domain=[1 - bot / H, 1 - top / H], anchor=xa, range=[0, 0.7], automargin=False,
                   tickvals=Y_TICKS, ticktext=[f"{v:.2f}" for v in Y_TICKS],
                   ticks="inside", ticklen=4, tickcolor=AX_GRAY, tickwidth=1,
                   showline=True, linecolor=AX_GRAY, linewidth=1,
                   showgrid=False, zeroline=False,
                   tickfont=dict(family=FONT, size=16, color=TXT),
                   ticklabelstandoff=8),
    })
    cx = (x0 + x1) / 2 / W
    annotations.append(dict(text=PANEL_TITLES[i], x=cx, y=1 - TITLE_Y[r] / H,
                            xref="paper", yref="paper", showarrow=False,
                            xanchor="center", yanchor="middle",
                            font=dict(family=FONT, size=17, color=TXT)))
    annotations.append(dict(text="Time (ns)", x=cx, y=1 - XLABEL_Y[r] / H,
                            xref="paper", yref="paper", showarrow=False,
                            xanchor="center", yanchor="middle",
                            font=dict(family=FONT, size=17, color=TXT)))
    annotations.append(dict(text="RMSD (nm)", x=(x0 - 62) / W, y=1 - (top + bot) / 2 / H,
                            xref="paper", yref="paper", showarrow=False, textangle=-90,
                            xanchor="center", yanchor="middle",
                            font=dict(family=FONT, size=17, color=TXT)))

fig.update_layout(width=W, height=H, margin=dict(l=0, r=0, t=0, b=0, autoexpand=False),
                  paper_bgcolor="white", plot_bgcolor="white",
                  annotations=annotations, showlegend=False)

fig.write_html("out.html", config={"displayModeBar": False},
               post_script="document.body.style.margin='0';document.documentElement.style.overflow='hidden';document.body.style.overflow='hidden';")
